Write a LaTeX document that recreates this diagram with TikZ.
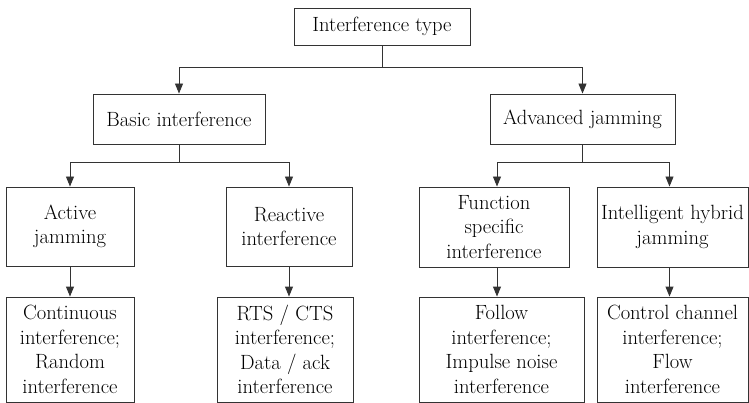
\documentclass[tikz,border=0pt]{standalone}
\usepackage{tikz}
\usetikzlibrary{arrows.meta}

\begin{document}
\begin{tikzpicture}[x=1pt,y=-1pt,
  box/.style={draw=black!80,line width=0.9pt,align=center,inner sep=0pt,
    font=\fontsize{20.6}{24.5}\selectfont},
  link/.style={draw=black!80,line width=0.9pt,-{Triangle[length=10pt,width=8pt]}}]
  \useasboundingbox (0,0) rectangle (749,403);
  % top level
  \node[box,minimum width=176,minimum height=37] (type) at (382,26.5) {Interference type};
  \node[box,minimum width=172,minimum height=50] (basic) at (179,119) {Basic interference};
  \node[box,minimum width=185,minimum height=50] (adv) at (582.5,119) {Advanced jamming};
  % second level
  \node[box,minimum width=128,minimum height=79] (active) at (70,226.5) {Active\\jamming};
  \node[box,minimum width=126,minimum height=79] (reactive) at (289,226.5) {Reactive\\interference};
  \node[box,minimum width=150,minimum height=80] (function) at (494,227) {Function\\specific\\interference};
  \node[box,minimum width=151,minimum height=80] (hybrid) at (672.5,227) {Intelligent hybrid\\jamming};
  % leaves
  \node[box,minimum width=128,minimum height=105] (cont) at (70,349.5) {Continuous\\interference;\\Random\\interference};
  \node[box,minimum width=136,minimum height=105] (rts) at (285,349.5) {RTS / CTS\\interference;\\Data / ack\\interference};
  \node[box,minimum width=165,minimum height=105] (follow) at (501.5,349.5) {Follow\\interference;\\Impulse noise\\interference};
  \node[box,minimum width=151,minimum height=105] (control) at (672.5,349.5) {Control channel\\interference;\\Flow\\interference};
  % connectors
  \draw[draw=black!80,line width=0.9pt] (type.south) -- ++(0,22) coordinate (typej);
  \draw[link] (typej) -| (basic.north);
  \draw[link] (typej) -| (adv.north);
  \draw[draw=black!80,line width=0.9pt] (basic.south) -- ++(0,18) coordinate (basicj);
  \draw[link] (basicj) -| (active.north);
  \draw[link] (basicj) -| (reactive.north);
  \draw[draw=black!80,line width=0.9pt] (adv.south) -- ++(0,18) coordinate (advj);
  \draw[link] (advj) -| ([xshift=3pt]function.north);
  \draw[link] (advj) -| ([xshift=-3pt]hybrid.north);
  \draw[link] (active.south) -- (cont.north);
  \draw[link] (reactive.south) -- (reactive.south |- rts.north);
  \draw[link] ([xshift=3pt]function.south) -- ([xshift=3pt]function.south |- follow.north);
  \draw[link] ([xshift=-3pt]hybrid.south) -- ([xshift=-3pt]hybrid.south |- control.north);
\end{tikzpicture}
\end{document}
